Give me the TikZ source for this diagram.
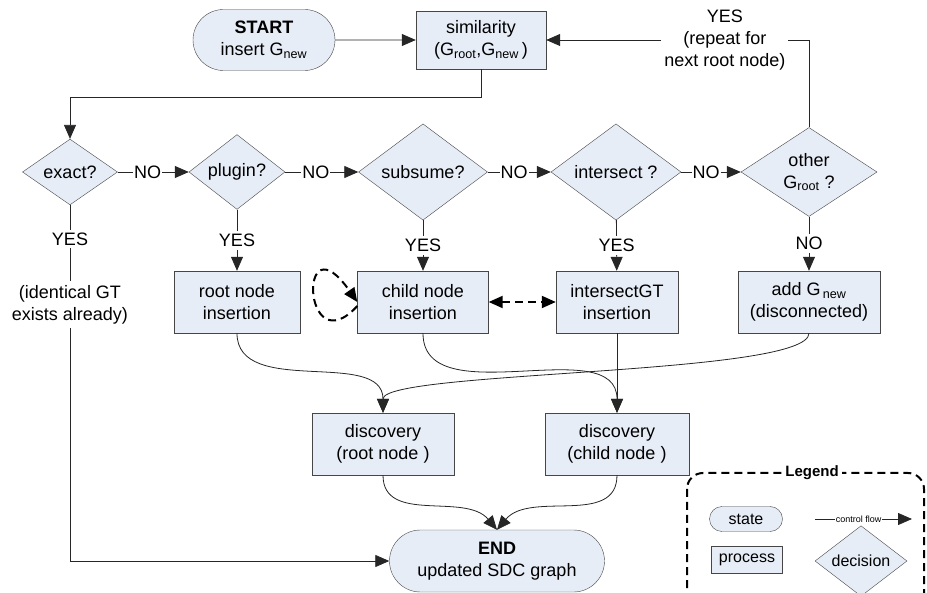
\documentclass[tikz,border=0pt]{standalone}
\usepackage{fontspec}
\setmainfont{Liberation Sans}
\usetikzlibrary{arrows.meta,shapes.geometric,shapes.misc,positioning}

\definecolor{boxfill}{RGB}{231,237,247}
\definecolor{boxline}{RGB}{70,70,70}

\tikzset{
  every node/.style={font=\fontsize{18}{22}\selectfont},
  blk/.style={draw=boxline, fill=boxfill, align=center, inner sep=0pt},
  terminal/.style={blk, rounded rectangle},
  proc/.style={blk, rectangle},
  decide/.style={blk, diamond},
  tip/.style={-{Triangle[length=14pt,width=12pt]}},
  flow/.style={draw=black!85, line width=0.8pt, tip},
  dashflow/.style={draw=black, line width=2pt, dash pattern=on 8pt off 5pt},
  lbl/.style={fill=white, inner sep=1pt, align=center},
}

\begin{document}
\begin{tikzpicture}[x=1pt,y=1pt]
   \useasboundingbox (0,0) rectangle (927,-593);

   % top
   \node[terminal, minimum width=142pt, minimum height=61pt] (start) at (264,-40) {\textbf{START}\\insert G\textsubscript{new}};
   \node[proc, minimum width=130pt, minimum height=58pt]     (sim)   at (481,-40) {similarity\\(G\textsubscript{root},G\textsubscript{new}\,)};

   % decisions
   \node[decide, minimum width=95pt,  minimum height=62pt] (exact)     at (70,-172)  {exact?};
   \node[decide, minimum width=96pt,  minimum height=64pt] (plugin)    at (237,-172) {plugin?};
   \node[decide, minimum width=129pt, minimum height=64pt] (subsume)   at (423,-172) {subsume?};
   \node[decide, minimum width=130pt, minimum height=62pt] (intersect) at (616,-172) {intersect ?};
   \node[decide, minimum width=136pt, minimum height=71pt] (other)     at (809,-172) {other\\G\textsubscript{root} ?};

   % processes
   \node[proc, minimum width=126pt, minimum height=62pt] (rootins)  [below of=plugin, node distance=130pt]    {root node\\insertion};
   \node[proc, minimum width=131pt, minimum height=62pt] (childins) [below of=subsume, node distance=130pt]   {child node\\insertion};
   \node[proc, minimum width=122pt, minimum height=62pt] (interins) at (617,-302) {intersectGT\\insertion};
   \node[proc, minimum width=142pt, minimum height=62pt] (addnew)   [below of=other, node distance=130pt]     {add G\textsubscript{\,new}\\(disconnected)};
   \node[proc, minimum width=142pt, minimum height=62pt] (discroot)  at (383,-444) {discovery\\(root node )};
   \node[proc, minimum width=144pt, minimum height=62pt] (discchild) at (617,-444) {discovery\\(child node )};
   \node[terminal, minimum width=215pt, minimum height=62pt] (endnode) at (497,-561) {\textbf{END}\\updated SDC graph};

   % connectors
   \draw[flow] (start) -- (sim);
   \draw[flow] (sim.south) -- ++(0,-28) -| (exact.north);
   \draw[flow] (exact) -- node[lbl, pos=0.42] {NO} (plugin);
   \draw[flow] (plugin) -- node[lbl, pos=0.42] {NO} (subsume);
   \draw[flow] (subsume) -- node[lbl, pos=0.42] {NO} (intersect);
   \draw[flow] (intersect) -- node[lbl, pos=0.42] {NO} (other);
   \draw[flow] (other.north) |- node[lbl, inner sep=3pt, pos=0.66] {YES\\(repeat for\\next root node)} (sim.east);
   \draw[flow] (exact.south) -- node[lbl, inner sep=3pt, pos=0.095] {YES}
                                node[lbl, inner sep=4pt, pos=0.28] {(identical GT\\exists already)}
               (exact.south |- endnode.west) -- (endnode.west);
   \draw[flow] (plugin) -- node[lbl, inner sep=3pt] {YES} (rootins);
   \draw[flow] (subsume) -- node[lbl, inner sep=3pt] {YES} (childins);
   \draw[flow] (intersect) -- node[lbl, inner sep=3pt] {YES} (interins);
   \draw[flow] (other) -- node[lbl, inner sep=3pt] {NO} (addnew);

   \draw[dashflow, tip] ([yshift=-4pt]childins.west)
        .. controls +(-55,-60) and +(-60,86) .. (childins.west);
   \draw[dashflow, {Triangle[length=14pt,width=12pt]}-{Triangle[length=14pt,width=12pt]}] (childins) -- (interins);

   \draw[flow] (rootins.south) to[out=-90, in=90] (discroot.north);
   \draw[flow] (addnew.south) to[out=-90, in=90, looseness=0.25] (discroot.north);
   \draw[flow] (childins.south) to[out=-90, in=90] (discchild.north);
   \draw[flow] (interins) -- (discchild);
   \draw[flow] (discroot.south) to[out=-90, in=130] (endnode.north);
   \draw[flow] (discchild.south) to[out=-90, in=50] (endnode.north);

   % legend
   \begin{scope}
     \clip (0,0) rectangle (927,-593);
     \draw[dashflow, rounded corners=16pt] (687,-473) rectangle (924,-620);
   \end{scope}
   \node[lbl, inner sep=3pt, font=\bfseries\fontsize{15}{18}\selectfont] (legend) at (812,-473) {Legend};
   \node[terminal, minimum width=73pt, minimum height=25pt, font=\fontsize{16}{19}\selectfont] (lstate) at (746,-519) {state};
   \node[proc, minimum width=71pt, minimum height=27pt, font=\fontsize{16}{19}\selectfont]     (lproc)  at (747,-560) {process};
   \node[decide, minimum width=92pt, minimum height=48pt, font=\fontsize{16}{19}\selectfont]   (ldec)   at (861,-561) {decision};
   \coordinate (cfa) at (815,-519);
   \coordinate (cfb) at (912,-519);
   \draw[flow] (cfa) -- node[lbl, pos=0.45, font=\fontsize{9}{10}\selectfont] {control flow} (cfb);
\end{tikzpicture}
\end{document}
